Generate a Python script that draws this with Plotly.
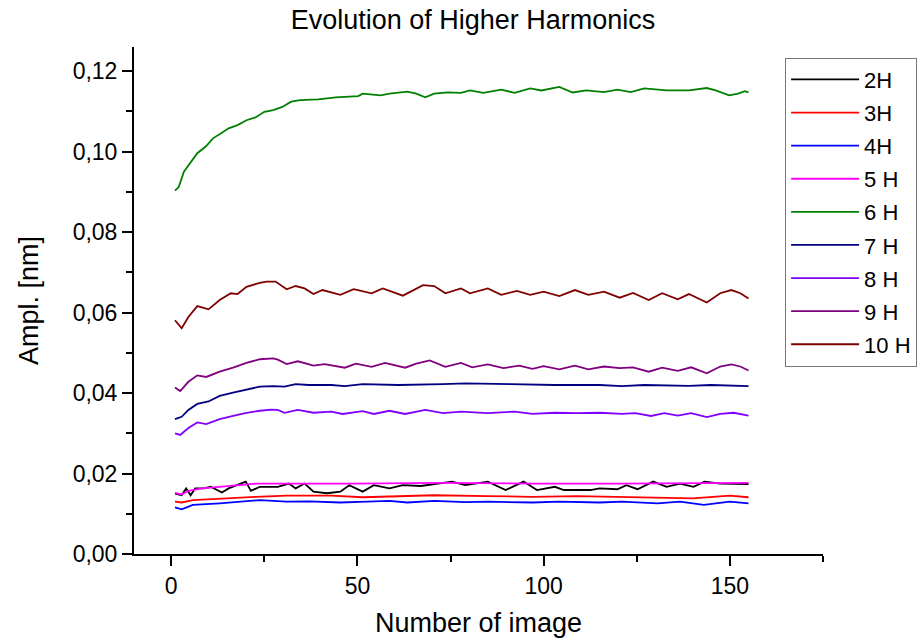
import plotly.graph_objects as go

# ---- data ----
x_2h = [1, 2.8, 4, 5.2, 6.4, 8.8, 10.6, 12.4, 13.6, 15.4, 17.8, 20, 21.4, 23.8, 28.6, 31.6, 33.4, 35.8, 38.2,
        41.8, 45.4, 47.8, 51.4, 54.4, 58.6, 62.2, 67, 70.6, 75.4, 79, 85, 89.8, 94.6, 98.2, 103, 105.4, 112.6,
        115, 119.8, 122.2, 125.2, 129.4, 133, 136.6, 140.2, 143.2, 147.4, 155]
y_2h = [0.0150, 0.0146, 0.0163, 0.0146, 0.0163, 0.0163, 0.0167, 0.0159, 0.0153, 0.0163, 0.0171, 0.0180, 0.0157,
        0.0167, 0.0167, 0.0175, 0.0163, 0.0175, 0.0155, 0.0151, 0.0155, 0.0171, 0.0155, 0.0171, 0.0163, 0.0171,
        0.0169, 0.0174, 0.0180, 0.0171, 0.0180, 0.0159, 0.0180, 0.0159, 0.0167, 0.0159, 0.0159, 0.0163, 0.0161,
        0.0171, 0.0161, 0.0180, 0.0167, 0.0175, 0.0167, 0.0180, 0.0175, 0.0174]

x_3h = [1, 2.8, 5.8, 13, 22.6, 31, 43, 51.4, 61, 70.6, 85, 97, 109, 121, 133, 140, 150, 155]
y_3h = [0.0130, 0.0128, 0.0134, 0.0138, 0.0142, 0.0145, 0.0145, 0.0141, 0.0144, 0.0146, 0.0144, 0.0142,
        0.0144, 0.0142, 0.0141, 0.0138, 0.0145, 0.0141]

x_4h = [1, 2.8, 5.8, 13, 23.8, 31, 37, 45.4, 52.6, 58.6, 63.4, 70.6, 79, 85, 97, 104.2, 115, 121, 130.6, 136.6,
        143, 150, 155]
y_4h = [0.0116, 0.0111, 0.0122, 0.0126, 0.0134, 0.0130, 0.0131, 0.0128, 0.0130, 0.0132, 0.0128, 0.0132,
        0.0129, 0.0130, 0.0128, 0.0130, 0.0128, 0.0130, 0.0126, 0.0130, 0.0122, 0.0130, 0.0126]

x_5h = [1, 2.8, 4.6, 8.2, 13, 17.8, 22.6, 31, 49, 73, 97, 121, 155]
y_5h = [0.0152, 0.0148, 0.0157, 0.0163, 0.0167, 0.0171, 0.0175, 0.0175, 0.0175, 0.0177, 0.0175, 0.0175, 0.0177]

x_6h = [1, 2, 3.4, 5.2, 7, 9.4, 11.2, 13.6, 15.4, 17.8, 20.2, 22.6, 25, 27.4, 29.8, 32.2, 34.6, 39.4, 44.2,
        50.2, 51.4, 56.2, 58.6, 63.4, 65.8, 68.2, 70.6, 74.2, 77.8, 80.2, 83.8, 88.6, 92.2, 96.4, 99.4, 104.2,
        107.8, 111.4, 116.2, 119.8, 123.4, 127, 133, 139, 143.8, 146.2, 149.8, 152.2, 154, 155]
y_6h = [0.0903, 0.0912, 0.0950, 0.0973, 0.0996, 0.1014, 0.1033, 0.1047, 0.1058, 0.1066, 0.1078, 0.1085,
        0.1099, 0.1103, 0.1111, 0.1124, 0.1128, 0.1130, 0.1135, 0.1138, 0.1144, 0.1140, 0.1144, 0.1149, 0.1144,
        0.1135, 0.1144, 0.1147, 0.1146, 0.1152, 0.1146, 0.1154, 0.1146, 0.1157, 0.1152, 0.1161, 0.1147, 0.1152,
        0.1148, 0.1154, 0.1148, 0.1157, 0.1152, 0.1152, 0.1158, 0.1152, 0.1140, 0.1144, 0.1150, 0.1147]

x_7h = [1, 2.8, 4.6, 7, 10, 13, 16.6, 20.2, 23.8, 27.4, 30.4, 33.4, 37, 43, 46.6, 51.4, 61, 73, 79, 91, 103,
        115, 121, 127, 133, 139, 145, 155]
y_7h = [0.0335, 0.0341, 0.0358, 0.0373, 0.0379, 0.0393, 0.0401, 0.0408, 0.0416, 0.0417, 0.0416, 0.0422,
        0.0420, 0.0420, 0.0417, 0.0422, 0.0420, 0.0422, 0.0424, 0.0422, 0.0420, 0.0420, 0.0417, 0.0420, 0.0419,
        0.0418, 0.0420, 0.0417]

x_8h = [1, 2.4, 4.6, 7, 9.4, 13, 16.6, 20.2, 23.8, 26.8, 28.6, 30.4, 34, 38.2, 43, 46, 51.4, 54.4, 58.6, 62.8,
        68.2, 73, 77.8, 85, 92.2, 97, 103, 109, 115, 121, 124.6, 128.8, 132.4, 136, 139.6, 143.8, 147.4, 151, 155]
y_8h = [0.0300, 0.0296, 0.0313, 0.0327, 0.0323, 0.0335, 0.0343, 0.0351, 0.0356, 0.0359, 0.0358, 0.0351,
        0.0358, 0.0351, 0.0354, 0.0348, 0.0355, 0.0348, 0.0356, 0.0348, 0.0358, 0.0350, 0.0354, 0.0350, 0.0354,
        0.0348, 0.0351, 0.0350, 0.0351, 0.0348, 0.0350, 0.0343, 0.0350, 0.0344, 0.0350, 0.0340, 0.0348, 0.0351,
        0.0344]

x_9h = [1, 2.4, 4.6, 7, 9.4, 13, 16.6, 20.2, 23.8, 27.4, 28.6, 31, 34, 38.2, 41.2, 46.6, 49.6, 53.8, 57.4,
        62.8, 65.8, 69.4, 73.6, 77.8, 80.8, 85, 89.2, 93.4, 97, 100, 104.2, 108.4, 112, 116.2, 120.4, 124,
        128.2, 131.8, 136, 139.6, 143.8, 147.4, 150.4, 152.8, 155]
y_9h = [0.0414, 0.0405, 0.0428, 0.0444, 0.0440, 0.0453, 0.0463, 0.0475, 0.0484, 0.0486, 0.0483, 0.0472,
        0.0479, 0.0468, 0.0472, 0.0463, 0.0473, 0.0465, 0.0475, 0.0463, 0.0473, 0.0481, 0.0465, 0.0475, 0.0464,
        0.0471, 0.0462, 0.0468, 0.0460, 0.0467, 0.0459, 0.0468, 0.0459, 0.0466, 0.0462, 0.0464, 0.0453, 0.0463,
        0.0455, 0.0464, 0.0449, 0.0466, 0.0471, 0.0466, 0.0456]

x_10h = [1, 2.8, 4.6, 7, 10, 13, 16, 17.8, 20.2, 23.8, 25.6, 28, 31, 33.4, 35.8, 38.2, 40.6, 45.4, 49, 53.8,
         56.8, 62.2, 67.6, 70.6, 73.6, 77.8, 80.2, 85, 88.6, 92.8, 96.4, 100, 104.2, 108.4, 112, 116.2, 120.4,
         124, 128.2, 131.8, 136, 139, 143.8, 147.4, 150.4, 152.8, 155]
y_10h = [0.0581, 0.0561, 0.0589, 0.0616, 0.0608, 0.0631, 0.0648, 0.0646, 0.0664, 0.0674, 0.0677, 0.0677,
         0.0658, 0.0666, 0.0660, 0.0646, 0.0656, 0.0644, 0.0658, 0.0648, 0.0660, 0.0642, 0.0668, 0.0666, 0.0648,
         0.0660, 0.0648, 0.0660, 0.0644, 0.0654, 0.0644, 0.0652, 0.0641, 0.0656, 0.0644, 0.0652, 0.0637, 0.0649,
         0.0631, 0.0648, 0.0633, 0.0646, 0.0625, 0.0648, 0.0656, 0.0648, 0.0635]

names = ["2H", "3H", "4H", "5 H", "6 H", "7 H", "8 H", "9 H", "10 H"]
xs = [x_2h, x_3h, x_4h, x_5h, x_6h, x_7h, x_8h, x_9h, x_10h]
ys = [y_2h, y_3h, y_4h, y_5h, y_6h, y_7h, y_8h, y_9h, y_10h]
colors = ["#000000", "#FF0000", "#0000FF", "#FF00FF", "#008000", "#000080", "#8000FF", "#800080", "#800000"]

FONT = "Liberation Sans, Arial, sans-serif"

fig = go.Figure()
for n, x, y, c in zip(names, xs, ys, colors):
    fig.add_trace(go.Scatter(x=x, y=y, mode="lines", name=n, legendgroup=n,
                             line=dict(color=c, width=1.8)))

fig.update_layout(
    width=922, height=639,
    margin=dict(l=134, r=99, t=47, b=85, autoexpand=False),
    paper_bgcolor="white", plot_bgcolor="white",
    separators=",.",
    font=dict(family=FONT, color="black"),
    title=dict(text="Evolution of Higher Harmonics", x=473 / 922, xanchor="center",
               y=1 - 20 / 639, yanchor="middle", font=dict(size=27, family=FONT, color="black")),
    legend=dict(x=0.945, y=0.979, xanchor="left", yanchor="top",
                bordercolor="#777777", borderwidth=1, bgcolor="white",
                font=dict(size=22, family=FONT, color="black"),
                tracegroupgap=1.5, itemwidth=68),
    showlegend=True,
)
fig.update_xaxes(range=[-10, 175], tickvals=[0, 50, 100, 150], ticks="outside", ticklen=10, tickwidth=1.5,
                 tickcolor="black", showline=True, linecolor="black", linewidth=2, showgrid=False,
                 zeroline=False, tickfont=dict(size=23, family=FONT, color="black"),
                 minor=dict(dtick=25, tick0=0, ticks="outside", ticklen=6, tickwidth=1.5, tickcolor="black",
                            showgrid=False),
                 title=dict(text="Number of image", font=dict(size=27, family=FONT, color="black"),
                            standoff=16))
fig.update_yaxes(range=[0, 0.126], dtick=0.02, tick0=0, tickformat=".2f", ticks="outside", ticklen=10,
                 tickwidth=1.5, tickcolor="black", showline=True, linecolor="black", linewidth=2,
                 showgrid=False, zeroline=False, tickfont=dict(size=23, family=FONT, color="black"),
                 minor=dict(dtick=0.01, tick0=0, ticks="outside", ticklen=6, tickwidth=1.5, tickcolor="black",
                            showgrid=False),
                 title=dict(text="Ampl. [nm]", font=dict(size=27, family=FONT, color="black"), standoff=26))

fig.write_html("out.html")
